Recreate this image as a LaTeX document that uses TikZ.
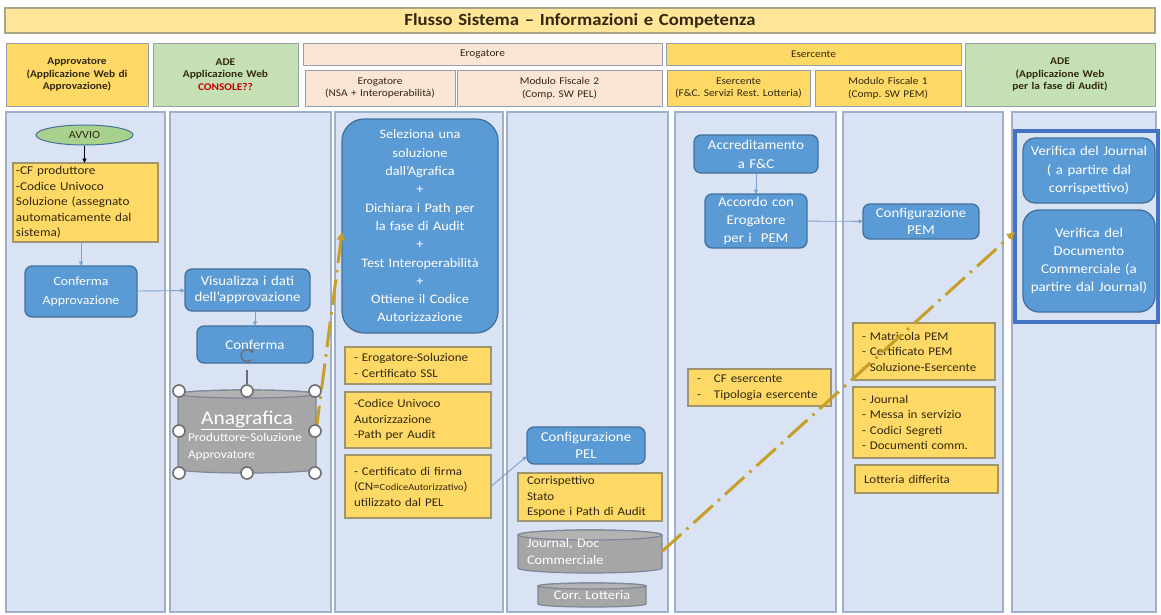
\documentclass[tikz,border=0pt]{standalone}
\usepackage{fontspec}
\setmainfont{Carlito}[FakeStretch=1.1]
\usetikzlibrary{arrows.meta,shapes.geometric,calc}
\frenchspacing

\definecolor{laneFill}{RGB}{218,227,243}
\definecolor{laneEdge}{RGB}{160,176,202}
\definecolor{titleFill}{RGB}{255,230,153}
\definecolor{titleEdge}{RGB}{170,165,130}
\definecolor{gold}{RGB}{255,217,102}
\definecolor{goldEdge}{RGB}{160,150,110}
\definecolor{mint}{RGB}{197,224,180}
\definecolor{peach}{RGB}{251,229,214}
\definecolor{hdrEdge}{RGB}{150,160,170}
\definecolor{boxBlue}{RGB}{91,155,213}
\definecolor{boxEdge}{RGB}{65,113,156}
\definecolor{flowBlue}{RGB}{120,160,205}
\definecolor{dbGray}{RGB}{166,166,166}
\definecolor{dbEdge}{RGB}{125,135,150}
\definecolor{linkGold}{RGB}{198,158,40}
\definecolor{ink}{RGB}{50,40,15}
\definecolor{redTxt}{RGB}{192,0,0}
\definecolor{auditBlue}{RGB}{68,114,196}
\definecolor{avvioGreen}{RGB}{169,209,142}
\definecolor{gripEdge}{RGB}{110,110,110}

\newcommand\fsz[2]{\fontsize{#1}{#2}\selectfont}

% cylinder body: x1 y1 x2 y2 (bounding box) and rim half-height
\newcommand\dbshape[5]{%
  \path[dbbody] (#1,#2+#5) -- (#1,#4-#5)
    arc[start angle=180,end angle=0,x radius={(#3-#1)/2},y radius=#5]
    -- (#3,#2+#5)
    arc[start angle=0,end angle=-180,x radius={(#3-#1)/2},y radius=#5] -- cycle;
  \path[dbtop] ({(#1+#3)/2},#2+#5) ellipse[x radius={(#3-#1)/2},y radius=#5];
}

\begin{document}
\begin{tikzpicture}[x=1pt,y=-1pt,
  span/.style n args={4}{at={({(#1+#3)/2},{(#2+#4)/2})},
    minimum width={(#3-#1)*1pt}, minimum height={(#4-#2)*1pt},
    text width={(#3-#1)*1pt-2*\pgfkeysvalueof{/pgf/inner xsep}}},
  base/.style={inner xsep=4pt, inner ysep=0pt, outer sep=0pt},
  lane/.style={base, fill=laneFill, draw=laneEdge, line width=1.3pt},
  hdr/.style={base, inner xsep=1pt, draw=hdrEdge, line width=1pt, text=ink,
    align=center, font=\fsz{10.3}{12.5}},
  hdrb/.style={hdr, font=\bfseries\fsz{10.3}{12.5}},
  flowbox/.style={base, rounded corners=7pt, fill=boxBlue, draw=boxEdge,
    line width=1.3pt, text=white, align=center, font=\fsz{13.5}{18}},
  note/.style={base, inner xsep=9pt, fill=gold, draw=goldEdge, line width=1.3pt,
    text=ink, align=left, font=\fsz{11.8}{15.5}},
  dbtext/.style={base, inner xsep=9pt, text=white, align=left, font=\fsz{13}{17.5}},
  dbbody/.style={fill=dbGray, draw=dbEdge, line width=1.2pt},
  dbtop/.style={fill=dbGray!85!white, draw=dbEdge, line width=1.2pt},
  flow/.style={draw=flowBlue, line width=0.9pt, -{Triangle[length=4.5pt,width=4pt]}},
  link/.style={draw=linkGold, line width=3pt, dash pattern=on 26pt off 7pt on 2.5pt off 7pt,
    -{Triangle[length=8pt,width=8pt]}},
  grip/.style={circle, fill=white, draw=gripEdge, line width=1.6pt, minimum size=12pt, inner sep=0pt},
]
\useasboundingbox (0,0) rectangle (1161,614);
\fill[white] (0,0) rectangle (1161,614);

% title bar
\node[base, fill=titleFill, draw=titleEdge, line width=1.2pt, align=center, text=ink,
  font=\bfseries\fsz{17}{20}, span={5}{8}{1155}{33}] (title)
  {Flusso Sistema – Informazioni e Competenza};

% column headers
\node[hdrb, fill=gold, span={6}{43}{148}{106}] (hApp) {Approvatore\\(Applicazione Web di\\Approvazione)};
\node[hdrb, fill=mint, span={153}{43}{298}{106}] (hAde) {ADE\\Applicazione Web\\\textcolor{redTxt}{CONSOLE??}};
\node[hdr, fill=peach, span={303}{43}{662}{65}] (hErog) {Erogatore};
\node[hdr, fill=peach, span={305}{70}{455}{106}] (hNsa) {Erogatore\\(NSA + Interoperabilità)};
\node[hdr, fill=peach, span={457}{70}{662}{106}] (hMf2) {Modulo Fiscale 2\\(Comp. SW PEL)};
\node[hdr, fill=gold, span={666}{43}{961}{65}] (hEserc) {Esercente};
\node[hdr, fill=gold, span={667}{70}{810}{106}] (hFc) {Esercente\\(F\&C. Servizi Rest. Lotteria)};
\node[hdr, fill=gold, span={815}{70}{961}{106}] (hMf1) {Modulo Fiscale 1\\(Comp. SW PEM)};
\node[hdrb, fill=mint, span={965}{43}{1155}{106}] (hAudit) {ADE\\(Applicazione Web\\per la fase di Audit)};

% swim lanes
\node[lane, span={6}{112}{165}{612}] (lane1) {};
\node[lane, span={170}{112}{331}{612}] (lane2) {};
\node[lane, span={335}{112}{503}{612}] (lane3) {};
\node[lane, span={507}{112}{668}{612}] (lane4) {};
\node[lane, span={675}{112}{836}{612}] (lane5) {};
\node[lane, span={843}{112}{1003}{612}] (lane6) {};
\node[lane, span={1012}{112}{1156}{612}] (lane7) {};

% approver lane
\node[ellipse, fill=avvioGreen, draw=boxEdge, line width=1pt, minimum width=97pt,
  minimum height=20pt, inner sep=0pt, text=ink, font=\fsz{11}{12}] (avvio) at (84.5,135) {AVVIO};
\node[note, inner xsep=3pt, font=\fsz{12}{15.5}, span={13}{163}{158}{242}] (cfprod)
  {-CF produttore\\-Codice Univoco\\Soluzione (assegnato\\automaticamente dal\\sistema)};
\node[flowbox, font=\fsz{12.5}{19.5}, span={25}{266}{137}{317}] (confApp) {Conferma\\Approvazione};

% ADE console lane
\node[flowbox, font=\fsz{13.5}{16.5}, span={185}{269}{310}{311}] (visual) {Visualizza i dati\\dell'approvazione};
\node[flowbox, span={197}{326}{313}{363}] (conf) {Conferma};
\dbshape{178}{390}{316}{473}{4}
\node[dbtext, inner xsep=10pt, yshift=-4pt, span={178}{390}{316}{473}] (anag)
  {{\centering\fsz{19.5}{22}\underline{Anagrafica}\par}
   \raggedright\fsz{12}{17}Produttore-Soluzione\\Approvatore};

% Erogatore lane
\node[flowbox, rounded corners=22pt, font=\fsz{13}{18.3}, span={342}{119}{498}{333}] (sel)
  {Seleziona una\\soluzione\\dall'Agrafica\\+\\Dichiara i Path per\\la fase di Audit\\+\\Test Interoperabilità\\+\\Ottiene il Codice\\Autorizzazione};
\node[note, span={345}{347}{491}{384}] (n31) {- Erogatore-Soluzione\\- Certificato SSL};
\node[note, span={345}{392}{491}{448}] (n32) {-Codice Univoco\\Autorizzazione\\-Path per Audit};
\node[note, span={345}{455}{491}{518}] (n33)
  {- Certificato di firma\\(CN={\fsz{9.5}{15.5}CodiceAutorizzativo})\\utilizzato dal PEL};

% Modulo Fiscale 2 lane
\node[flowbox, span={527}{427}{645}{464}, font=\fsz{13.5}{17}] (pel) {Configurazione\\PEL};
\node[note, span={518}{473}{662}{521}] (n41) {Corrispettivo\\Stato\\Espone i Path di Audit};
\dbshape{518}{530}{662}{573}{5}
\node[dbtext, span={518}{530}{662}{573}] (journal) {Journal, Doc\\Commerciale};
\dbshape{538}{583}{646}{607}{3}
\node[dbtext, align=center, inner xsep=2pt, span={538}{583}{646}{607}] (corr) {Corr. Lotteria};

% Esercente lane
\node[flowbox, font=\fsz{13.5}{19}, span={694}{135}{818}{173}] (accr) {Accreditamento\\a F\&C};
\node[flowbox, span={705}{194}{807}{248}] (accordo) {Accordo con\\Erogatore\\per i\ \ PEM};
\node[note, span={688}{369}{831}{406}] (n51) {-\hspace{13pt}CF esercente\\-\hspace{13pt}Tipologia esercente};

% Modulo Fiscale 1 lane
\node[flowbox, font=\fsz{13.5}{17}, span={863}{204}{979}{239}] (pem) {Configurazione\\PEM};
\node[note, span={853}{323}{995}{380}] (n61) {- Matricola PEM\\- Certificato PEM\\- Soluzione-Esercente};
\node[note, span={853}{387}{995}{458}] (n62) {- Journal\\- Messa in servizio\\- Codici Segreti\\- Documenti comm.};
\node[note, span={855}{465}{998}{493}] (n63) {Lotteria differita};

% audit lane
\node[base, fill=laneFill, draw=auditBlue, line width=3.5pt, span={1015}{131}{1158}{322}] (audit) {};
\node[flowbox, rounded corners=12pt, inner xsep=2pt, font=\fsz{13.5}{18.3}, span={1023}{138}{1155}{203}] (ver1)
  {Verifica del Journal\\( a partire dal\\corrispettivo)};
\node[flowbox, rounded corners=16pt, inner xsep=2pt, span={1023}{210}{1155}{312}] (ver2)
  {Verifica del\\Documento\\Commerciale (a\\partire dal Journal)};

% process flow
\draw[flow, draw=black] (avvio.south) -- (avvio.south |- cfprod.north);
\draw[flow] (confApp.north |- cfprod.south) -- (confApp.north);
\draw[flow] (confApp) -- (visual);
\draw[flow] (conf.north |- visual.south) -- (conf.north);
\draw[flow] (n33.east) -- ([yshift=8pt]pel.south west);
\draw[flow] (accr) -- (accordo);
\draw[flow] (accordo) -- (pem);

% data links
\draw[link] ([yshift=4pt]anag.east) -- ([yshift=-6pt]sel.west);
\draw[link] (journal.east) -- ([yshift=-5.5pt]audit.west);

% selection handles around the registry
\node[circle, minimum size=12pt, inner sep=0pt] (rot) at (247,364) {};
\draw[gripEdge, line width=1.4pt, -{Triangle[length=3pt,width=4pt]}]
  (rot.north east) arc[start angle=45, end angle=340, radius=6];
\foreach \gx/\gy [count=\i] in {179/391,247/391,315/391,179/431,315/431,179/473,247/473,315/473}
  \node[grip] (g\i) at (\gx,\gy) {};
\draw[gripEdge, line width=1.2pt] (rot) -- (g2);
\end{tikzpicture}
\end{document}
